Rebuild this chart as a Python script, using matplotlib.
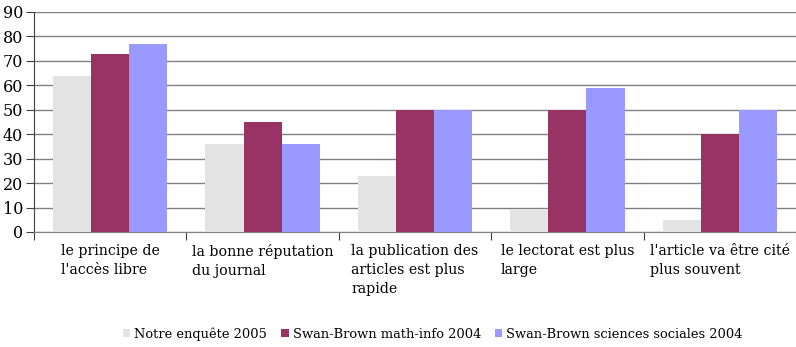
import numpy as np
import matplotlib.pyplot as plt

categories = ["le principe de\nl'accès libre",
              "la bonne réputation\ndu journal",
              "la publication des\narticles est plus\nrapide",
              "le lectorat est plus\nlarge",
              "l'article va être cité\nplus souvent"]
series_names = ["Notre enquête 2005",
                "Swan-Brown math-info 2004",
                "Swan-Brown sciences sociales 2004"]
notre = [64, 36, 23, 9, 5]
math_info = [73, 45, 50, 50, 40]
sciences_sociales = [77, 36, 50, 59, 50]
colors = ['#e3e3e3', '#993366', '#9999ff']

plt.rcParams['font.family'] = ['DejaVu Serif']

fig = plt.figure(figsize=(7.96, 3.47), dpi=100)
ax = fig.add_axes([34 / 796, 1 - 232 / 347, 762 / 796, 220 / 347])

x = np.arange(len(categories))
w = 0.25
for k, (vals, name) in enumerate(zip([notre, math_info, sciences_sociales], series_names)):
    ax.bar(x + (k - 1) * w, vals, w, color=colors[k], label=name, zorder=3)

ax.set_xlim(-0.5, len(categories) - 0.5)
ax.set_ylim(0, 90)
ax.set_yticks(range(0, 91, 10))
ax.yaxis.grid(True, color='#808080', linewidth=1, zorder=0)
ax.tick_params(axis='y', length=6, color='#404040', labelsize=11.5, pad=2)
ax.set_xticks(np.arange(-0.5, len(categories)), labels=[''] * (len(categories) + 1))
ax.tick_params(axis='x', length=6, color='#404040')
for s in ['top', 'right']:
    ax.spines[s].set_visible(False)
ax.spines['left'].set_color('#404040')
ax.spines['bottom'].set_color('#808080')

for i, c in enumerate(categories):
    ax.text(i, -5.0, c, ha='center', va='top', multialignment='left',
            fontsize=10.2, linespacing=1.45)

fig.legend(loc='center', bbox_to_anchor=(433 / 796, 1 - 334 / 347), ncol=3,
           frameon=False, fontsize=9.4, handlelength=0.55, handleheight=0.55,
           handletextpad=0.3, columnspacing=1.1)

fig.savefig('out.png', dpi=100)
